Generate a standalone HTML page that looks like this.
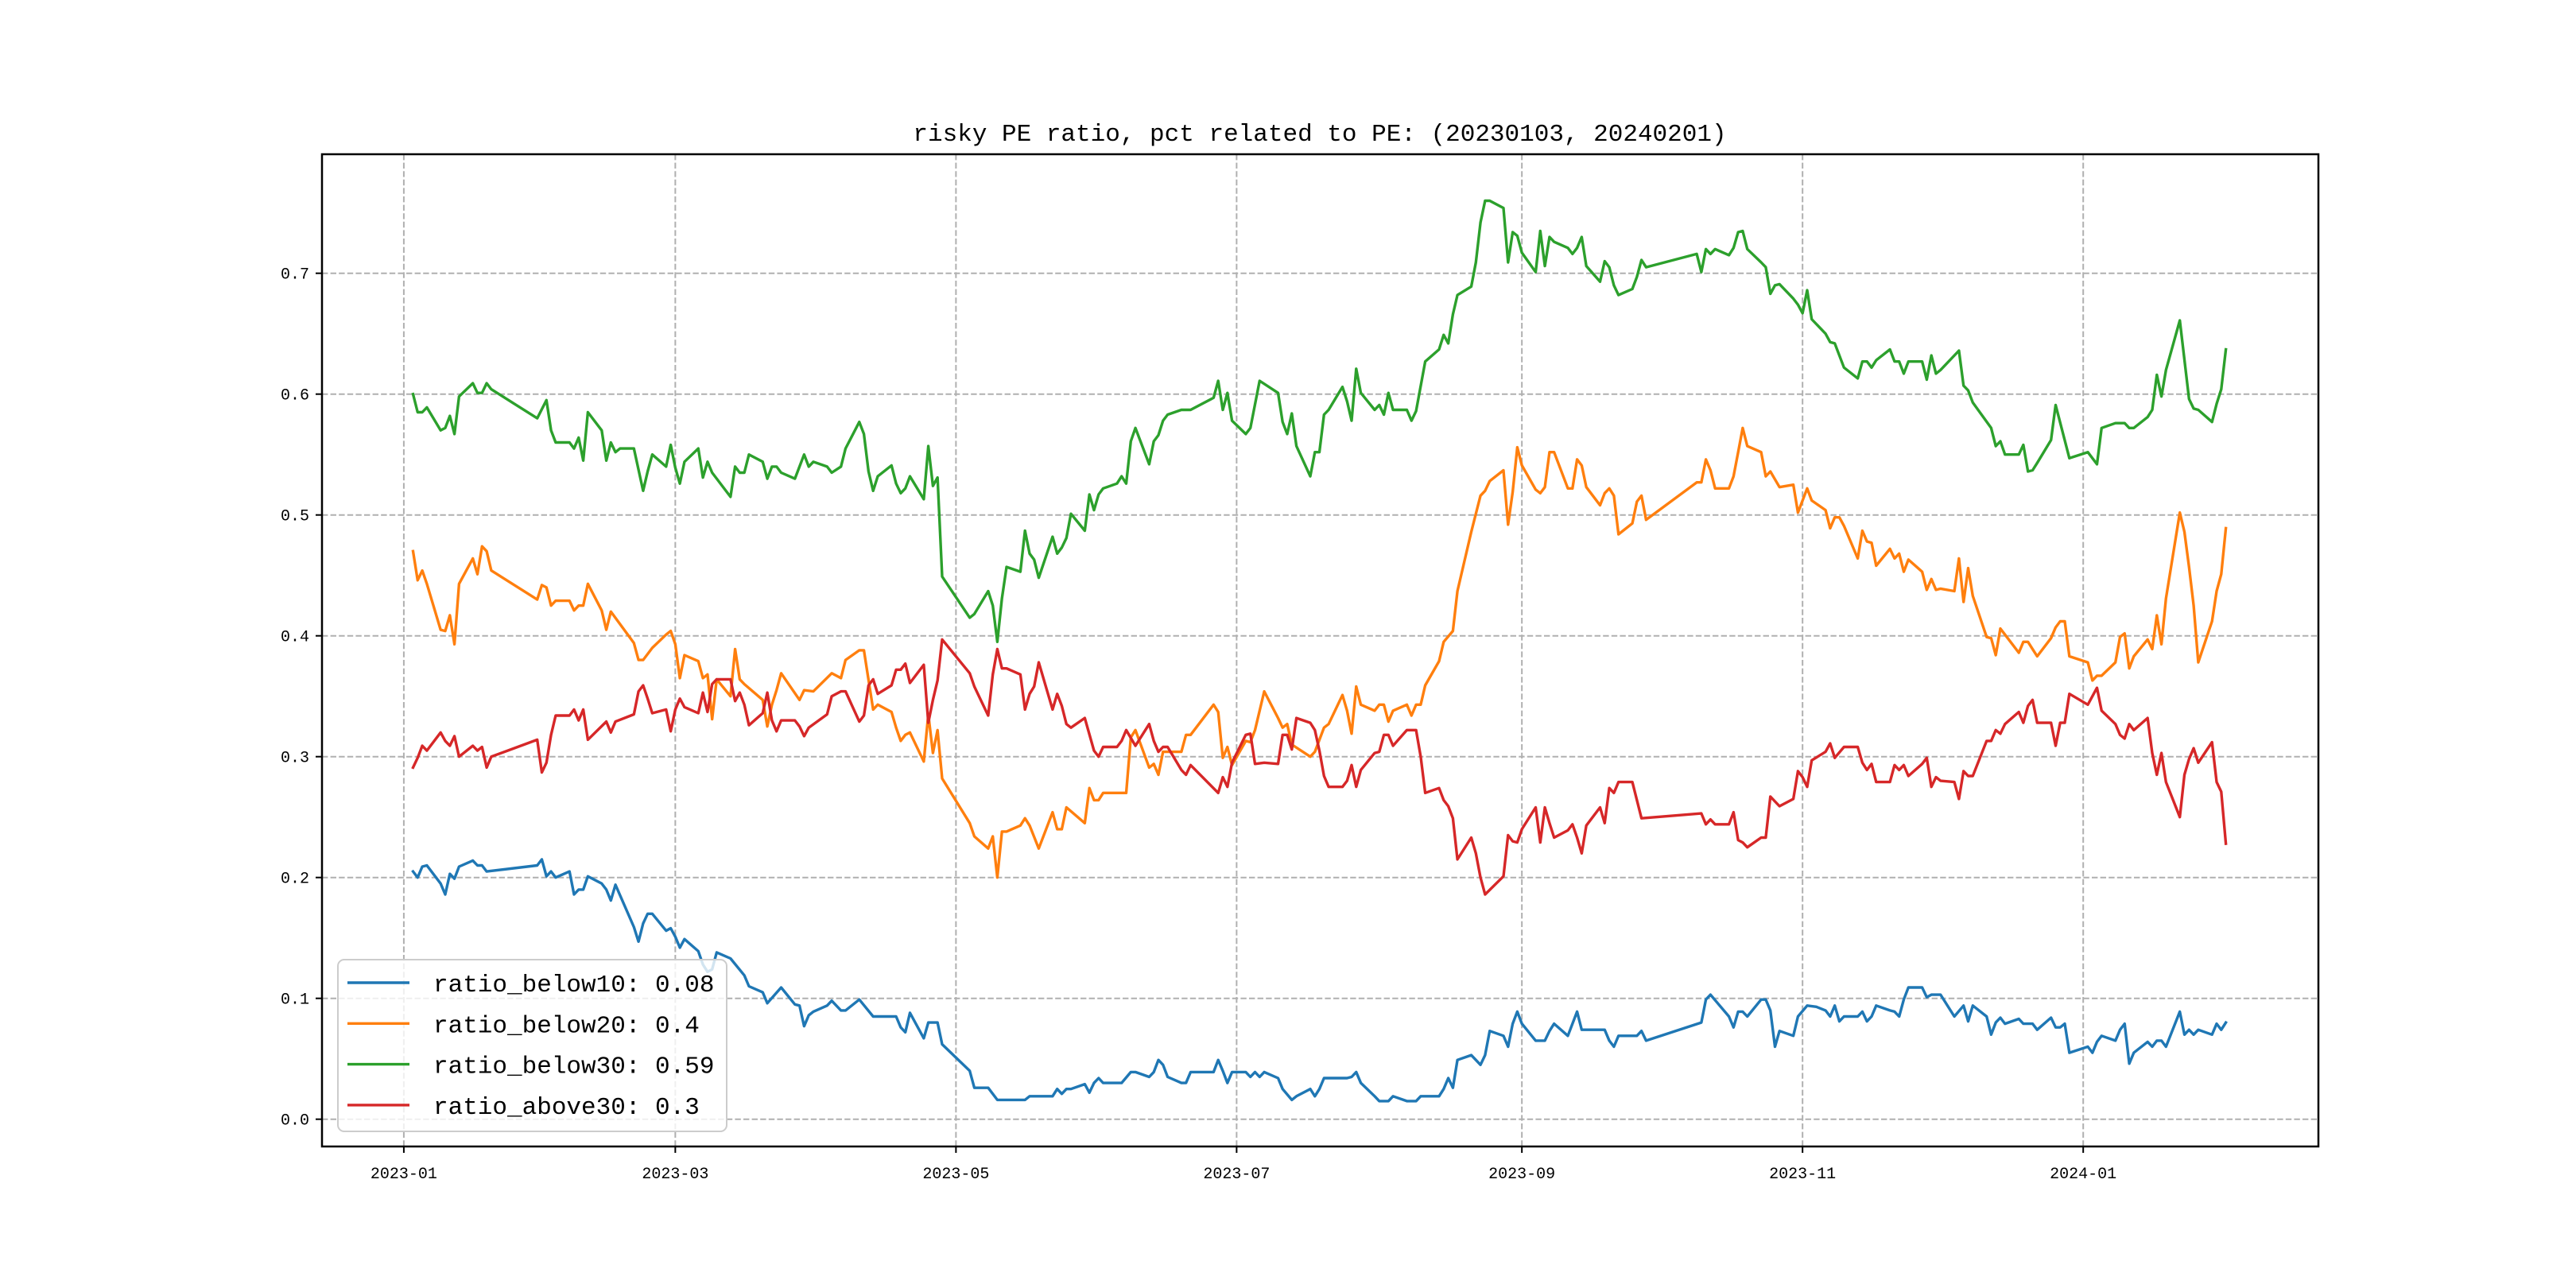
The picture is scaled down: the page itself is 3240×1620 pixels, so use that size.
<!DOCTYPE html>
<html><head><meta charset="utf-8">
<style>
html,body{margin:0;padding:0;background:#fff;}
svg{display:block;}
text{font-family:"Liberation Mono","WenQuanYi Zen Hei",monospace;fill:#000;}
</style></head>
<body>
<svg id="chart" width="3240" height="1620" viewBox="0 0 3240 1620" xmlns="http://www.w3.org/2000/svg">
<rect x="0" y="0" width="3240" height="1620" fill="#fff"/>
<text x="1660" y="177" font-size="31" text-anchor="middle">risky PE ratio, pct related to PE: (20230103, 20240201)</text>
<g id="grid"></g>
<g id="series"></g>
<rect x="405" y="194" width="2511" height="1248" fill="none" stroke="#000" stroke-width="2.5"/>
<g id="axes"></g>
<g id="legend"></g>
</svg>
<script>
const startDate = '2023-01-03';
const xTickLabels = ['2023-01','2023-03','2023-05','2023-07','2023-09','2023-11','2024-01'];
const yTickValues = [0.0,0.1,0.2,0.3,0.4,0.5,0.6,0.7];
const yTickLabels = ['0.0','0.1','0.2','0.3','0.4','0.5','0.6','0.7'];
const seriesNames = ['ratio_below10: 0.08','ratio_below20: 0.4','ratio_below30: 0.59','ratio_above30: 0.3'];
const seriesColors = ['#1f77b4','#ff7f0e','#2ca02c','#d62728'];

const below30Days = [0,1,2,3,6,7,8,9,10,13,14,15,16,17,27,29,30,31,34,35,36,37,38,41,42,43,44,45,48,50,51,52,55,56,57,58,59,62,63,64,65,69,70,71,72,73,76,77,78,79,80,83,84,85,86,87,90,91,93,94,97,98,99,100,101,104,105,106,107,108,111,112,113,114,115,121,122,125,126,127,128,129,132,133,134,135,136,139,140,141,142,143,146,147,148,149,150,153,154,155,156,157,160,161,162,163,164,167,169,174,175,176,177,178,181,182,184,188,189,190,191,192,195,196,197,198,199,202,203,204,205,206,209,210,211,212,213,216,217,218,220,223,224,225,226,227,230,231,232,233,234,237,238,239,240,241,244,245,246,247,248,251,252,253,254,255,258,259,260,261,262,265,266,267,268,279,280,281,282,283,286,287,288,289,290,293,294,295,296,297,300,301,302,303,304,307,308,309,311,314,315,316,317,318,321,322,323,324,325,328,329,330,331,332,336,337,338,339,343,344,345,346,349,350,351,352,353,356,357,360,364,366,367,370,372,373,374,377,378,379,380,381,384,386,387,388,391,392,393,394];
const below30Vals = [0.600,0.585,0.585,0.589,0.570,0.572,0.582,0.567,0.598,0.609,0.601,0.601,0.609,0.604,0.580,0.595,0.570,0.560,0.560,0.555,0.564,0.545,0.585,0.570,0.545,0.560,0.552,0.555,0.555,0.520,0.536,0.550,0.540,0.558,0.539,0.526,0.544,0.555,0.531,0.544,0.535,0.515,0.540,0.535,0.535,0.550,0.544,0.530,0.540,0.540,0.535,0.530,0.540,0.550,0.540,0.544,0.540,0.535,0.540,0.555,0.577,0.567,0.536,0.520,0.532,0.541,0.526,0.518,0.522,0.532,0.513,0.557,0.524,0.531,0.449,0.415,0.418,0.437,0.425,0.395,0.431,0.457,0.453,0.487,0.468,0.463,0.448,0.482,0.468,0.473,0.481,0.501,0.487,0.517,0.504,0.517,0.522,0.526,0.532,0.526,0.561,0.572,0.542,0.561,0.566,0.578,0.583,0.587,0.587,0.597,0.611,0.587,0.601,0.578,0.567,0.572,0.611,0.601,0.577,0.567,0.584,0.557,0.532,0.552,0.552,0.583,0.587,0.606,0.594,0.578,0.621,0.601,0.587,0.591,0.583,0.601,0.587,0.587,0.578,0.586,0.627,0.637,0.649,0.642,0.666,0.682,0.689,0.709,0.742,0.760,0.760,0.754,0.709,0.734,0.731,0.717,0.701,0.735,0.706,0.730,0.726,0.721,0.716,0.721,0.730,0.706,0.693,0.710,0.705,0.690,0.682,0.687,0.697,0.711,0.705,0.716,0.701,0.720,0.716,0.720,0.715,0.721,0.734,0.735,0.720,0.709,0.705,0.683,0.690,0.691,0.679,0.674,0.667,0.686,0.662,0.650,0.643,0.642,0.622,0.613,0.627,0.627,0.622,0.628,0.637,0.627,0.627,0.617,0.627,0.627,0.612,0.632,0.617,0.620,0.636,0.607,0.603,0.593,0.572,0.557,0.561,0.550,0.550,0.558,0.536,0.537,0.543,0.562,0.591,0.547,0.552,0.542,0.572,0.576,0.576,0.572,0.572,0.581,0.587,0.616,0.598,0.620,0.661,0.596,0.588,0.587,0.577,0.592,0.604,0.637];

const below20Days = [0,1,2,3,6,7,8,9,10,13,14,15,16,17,27,28,29,30,31,34,35,36,37,38,41,42,43,48,49,50,52,55,56,57,58,59,62,63,64,65,66,69,70,71,72,76,77,78,79,80,84,85,87,91,93,94,97,98,100,101,104,105,106,107,108,111,112,113,114,115,121,122,125,126,127,128,129,132,133,134,136,139,140,141,142,146,147,148,149,150,155,156,157,160,161,162,163,167,168,169,174,175,176,177,178,181,182,183,185,188,189,190,191,195,196,198,199,202,203,204,205,206,209,210,211,212,213,216,217,218,219,220,223,224,226,227,230,232,233,234,237,238,239,240,241,244,245,246,247,248,251,252,253,254,255,258,259,260,261,262,265,266,267,268,279,280,281,282,283,286,287,288,289,290,293,294,295,297,300,301,303,304,307,308,309,310,311,314,315,316,317,318,321,322,323,324,325,328,329,330,331,332,335,336,337,338,339,342,343,344,345,346,349,350,351,352,353,356,357,358,359,360,364,365,366,367,370,371,372,373,374,377,378,379,380,381,384,385,386,387,388,391,392,393,394];
const below20Vals = [0.470,0.446,0.454,0.443,0.405,0.404,0.417,0.393,0.443,0.464,0.451,0.474,0.470,0.454,0.430,0.442,0.440,0.425,0.429,0.429,0.421,0.425,0.425,0.443,0.421,0.405,0.420,0.394,0.380,0.380,0.390,0.401,0.404,0.393,0.365,0.384,0.379,0.365,0.368,0.331,0.364,0.350,0.389,0.364,0.360,0.347,0.325,0.343,0.355,0.369,0.347,0.355,0.354,0.369,0.365,0.380,0.388,0.388,0.339,0.343,0.337,0.324,0.313,0.318,0.320,0.296,0.335,0.303,0.322,0.282,0.245,0.234,0.224,0.234,0.200,0.238,0.238,0.243,0.249,0.243,0.224,0.254,0.240,0.240,0.258,0.245,0.274,0.264,0.264,0.270,0.270,0.316,0.322,0.291,0.294,0.285,0.304,0.304,0.318,0.318,0.343,0.337,0.299,0.308,0.293,0.313,0.312,0.322,0.354,0.332,0.324,0.327,0.310,0.300,0.304,0.324,0.327,0.351,0.338,0.319,0.358,0.343,0.338,0.343,0.343,0.329,0.338,0.343,0.334,0.343,0.343,0.359,0.379,0.395,0.404,0.437,0.486,0.516,0.520,0.528,0.537,0.492,0.519,0.556,0.541,0.521,0.518,0.523,0.552,0.552,0.522,0.522,0.546,0.541,0.523,0.508,0.518,0.522,0.516,0.484,0.493,0.511,0.516,0.496,0.527,0.527,0.546,0.537,0.522,0.522,0.532,0.552,0.572,0.557,0.552,0.532,0.536,0.523,0.525,0.502,0.522,0.512,0.504,0.489,0.498,0.498,0.491,0.464,0.487,0.478,0.477,0.458,0.472,0.464,0.468,0.453,0.463,0.453,0.438,0.447,0.438,0.439,0.437,0.464,0.428,0.456,0.433,0.399,0.398,0.384,0.406,0.401,0.386,0.395,0.395,0.389,0.383,0.398,0.407,0.412,0.412,0.383,0.378,0.363,0.367,0.367,0.378,0.399,0.402,0.373,0.383,0.397,0.389,0.417,0.393,0.431,0.502,0.486,0.457,0.425,0.378,0.412,0.437,0.451,0.489];

const above30Days = [0,1,2,3,6,7,8,9,10,13,14,15,16,17,27,28,29,30,31,34,35,36,37,38,42,43,44,48,49,50,51,52,55,56,57,58,59,62,63,64,65,66,69,70,71,72,73,76,77,78,79,80,83,84,85,86,90,91,93,94,97,98,99,100,101,104,105,106,107,108,111,112,113,114,115,121,122,125,126,127,128,129,132,133,134,135,136,139,140,141,142,143,146,148,149,150,153,154,155,157,160,161,162,163,164,167,168,169,175,176,177,178,181,182,183,185,188,189,190,191,192,195,196,197,198,199,202,203,204,205,206,209,210,211,212,213,216,218,219,220,223,224,225,226,227,230,231,232,233,237,238,239,240,241,244,245,246,247,248,251,252,253,254,255,258,259,260,261,262,265,267,280,281,282,283,286,287,288,289,290,293,294,295,297,300,301,302,303,304,307,308,309,311,314,315,316,317,318,321,322,323,324,325,328,329,330,331,332,335,336,337,338,339,342,343,344,345,346,349,350,351,352,353,356,357,358,359,360,364,366,367,370,371,372,373,374,377,378,379,380,381,384,385,386,387,388,391,392,393,394];
const above30Vals = [0.291,0.299,0.309,0.305,0.320,0.313,0.309,0.317,0.300,0.309,0.305,0.308,0.291,0.300,0.314,0.287,0.295,0.318,0.334,0.334,0.339,0.330,0.339,0.314,0.329,0.320,0.329,0.335,0.354,0.359,0.348,0.336,0.339,0.321,0.339,0.348,0.341,0.336,0.353,0.337,0.360,0.364,0.364,0.346,0.353,0.343,0.326,0.336,0.353,0.330,0.321,0.330,0.330,0.325,0.317,0.324,0.335,0.350,0.354,0.354,0.329,0.334,0.359,0.364,0.352,0.359,0.372,0.372,0.377,0.361,0.376,0.328,0.347,0.363,0.397,0.369,0.358,0.334,0.368,0.389,0.373,0.373,0.368,0.339,0.352,0.358,0.378,0.339,0.352,0.342,0.327,0.324,0.332,0.305,0.300,0.308,0.308,0.313,0.322,0.309,0.327,0.313,0.304,0.308,0.308,0.289,0.285,0.293,0.270,0.283,0.275,0.295,0.318,0.319,0.294,0.295,0.294,0.318,0.318,0.306,0.332,0.328,0.322,0.305,0.284,0.275,0.275,0.280,0.293,0.275,0.289,0.303,0.304,0.318,0.318,0.309,0.322,0.322,0.300,0.270,0.274,0.264,0.259,0.249,0.215,0.233,0.220,0.200,0.186,0.201,0.235,0.230,0.229,0.240,0.258,0.229,0.258,0.245,0.233,0.239,0.244,0.233,0.220,0.243,0.258,0.245,0.274,0.270,0.279,0.279,0.249,0.253,0.244,0.248,0.244,0.244,0.254,0.231,0.229,0.225,0.233,0.233,0.267,0.259,0.265,0.288,0.283,0.275,0.297,0.304,0.311,0.299,0.308,0.308,0.295,0.289,0.294,0.279,0.279,0.293,0.289,0.293,0.284,0.294,0.299,0.275,0.283,0.280,0.279,0.265,0.288,0.284,0.284,0.313,0.313,0.322,0.319,0.327,0.337,0.328,0.342,0.347,0.328,0.328,0.309,0.328,0.328,0.352,0.343,0.357,0.338,0.327,0.318,0.315,0.327,0.322,0.332,0.303,0.285,0.303,0.279,0.250,0.285,0.298,0.307,0.295,0.312,0.279,0.271,0.228];

const below10Days = [0,1,2,3,6,7,8,9,10,13,14,15,16,27,28,29,30,31,34,35,36,37,38,41,42,43,44,48,49,50,51,52,55,56,57,58,59,62,63,64,65,66,69,72,73,76,77,80,83,84,85,86,87,90,91,93,94,97,100,101,105,106,107,108,111,112,114,115,121,122,125,127,133,134,139,140,141,142,143,146,147,148,149,150,154,156,157,160,161,162,163,164,167,168,169,174,175,176,177,178,181,182,183,184,185,188,189,191,192,195,196,197,198,203,204,205,206,209,210,212,213,216,218,219,223,224,225,226,227,230,232,233,234,237,238,239,240,241,244,246,247,248,251,253,254,259,260,261,262,266,267,268,280,281,282,286,287,288,289,290,293,294,295,296,297,300,301,303,305,307,308,309,310,311,314,315,316,317,318,321,322,323,324,325,328,329,330,332,335,337,338,339,342,343,344,345,346,349,350,352,353,356,357,358,359,360,364,365,366,367,370,371,372,373,374,377,378,379,380,381,384,385,386,387,388,391,392,393,394];
const below10Vals = [0.205,0.200,0.209,0.210,0.195,0.186,0.203,0.199,0.209,0.214,0.210,0.210,0.205,0.210,0.215,0.201,0.205,0.200,0.205,0.186,0.190,0.190,0.201,0.195,0.190,0.181,0.194,0.159,0.147,0.162,0.170,0.170,0.156,0.158,0.151,0.142,0.149,0.139,0.128,0.122,0.124,0.138,0.133,0.119,0.110,0.105,0.096,0.109,0.095,0.094,0.077,0.086,0.089,0.094,0.098,0.090,0.090,0.099,0.085,0.085,0.085,0.076,0.072,0.088,0.067,0.080,0.080,0.062,0.040,0.026,0.026,0.016,0.016,0.019,0.019,0.025,0.021,0.025,0.025,0.029,0.022,0.030,0.034,0.030,0.030,0.039,0.039,0.035,0.039,0.049,0.045,0.035,0.030,0.030,0.039,0.039,0.049,0.040,0.030,0.039,0.039,0.035,0.039,0.035,0.039,0.034,0.025,0.016,0.019,0.025,0.019,0.025,0.034,0.034,0.035,0.039,0.030,0.019,0.015,0.015,0.019,0.015,0.015,0.019,0.019,0.025,0.034,0.026,0.049,0.053,0.045,0.053,0.073,0.069,0.060,0.079,0.089,0.079,0.065,0.065,0.073,0.079,0.069,0.089,0.074,0.074,0.065,0.060,0.069,0.069,0.073,0.065,0.080,0.099,0.103,0.085,0.076,0.089,0.089,0.085,0.099,0.099,0.090,0.060,0.073,0.069,0.085,0.094,0.093,0.090,0.085,0.094,0.081,0.085,0.085,0.089,0.081,0.085,0.094,0.090,0.089,0.085,0.099,0.109,0.109,0.101,0.103,0.103,0.085,0.094,0.081,0.094,0.085,0.070,0.080,0.084,0.079,0.083,0.079,0.079,0.074,0.084,0.076,0.076,0.079,0.055,0.060,0.055,0.064,0.069,0.065,0.074,0.079,0.046,0.055,0.064,0.060,0.065,0.065,0.060,0.089,0.070,0.074,0.070,0.074,0.070,0.079,0.074,0.080];

const NS = 'http://www.w3.org/2000/svg';
const X0 = 519.5, PX_PER_DAY = 5.787, Y0 = 1407.7, PX_PER_UNIT = 1520;
const PLOT_L = 405, PLOT_R = 2916, PLOT_T = 194, PLOT_B = 1442;
function xScale(d){ return X0 + d * PX_PER_DAY; }
function yScale(v){ return Y0 - v * PX_PER_UNIT; }
function dayOf(label){
  const p = label.split('-').map(Number);
  const s = startDate.split('-').map(Number);
  return (Date.UTC(p[0], p[1]-1, p[2]||1) - Date.UTC(s[0], s[1]-1, s[2])) / 86400000;
}
function mk(tag, attrs, parent){
  const el = document.createElementNS(NS, tag);
  for (const k in attrs) el.setAttribute(k, attrs[k]);
  parent.appendChild(el);
  return el;
}
const grid = document.getElementById('grid');
const axes = document.getElementById('axes');
const seriesG = document.getElementById('series');
const legend = document.getElementById('legend');

xTickLabels.forEach(function(lab){
  const x = xScale(dayOf(lab));
  const gl = mk('line', {x1:x, x2:x, y1:PLOT_T, y2:PLOT_B, stroke:'#b0b0b0', 'stroke-width':2, 'stroke-dasharray':'7.4 3.2'}, grid);
  
  
  const tk = mk('line', {x1:x, x2:x, y1:PLOT_B, y2:PLOT_B+8, stroke:'#000', 'stroke-width':2}, axes);
  
  
  const t = mk('text', {x:x, y:PLOT_B+40, 'font-size':20, 'text-anchor':'middle'}, axes);
  t.textContent = lab;
  
  
});
yTickValues.forEach(function(v, i){
  const y = yScale(v);
  const gl = mk('line', {x1:PLOT_L, x2:PLOT_R, y1:y, y2:y, stroke:'#b0b0b0', 'stroke-width':2, 'stroke-dasharray':'7.4 3.2'}, grid);
  
  
  const tk = mk('line', {x1:PLOT_L-8, x2:PLOT_L, y1:y, y2:y, stroke:'#000', 'stroke-width':2}, axes);
  
  
  const t = mk('text', {x:PLOT_L-16, y:y+7, 'font-size':20, 'text-anchor':'end'}, axes);
  t.textContent = yTickLabels[i];
  
  
});

const allDays = [below10Days, below20Days, below30Days, above30Days];
const allVals = [below10Vals, below20Vals, below30Vals, above30Vals];
const lineNames = ['line-ratio-below10','line-ratio-below20','line-ratio-below30','line-ratio-above30'];
allDays.forEach(function(days, s){
  const vals = allVals[s];
  let d = '';
  for (let i = 0; i < days.length && i < vals.length; i++){
    d += (i ? 'L' : 'M') + xScale(days[i]).toFixed(1) + ',' + yScale(vals[i]).toFixed(1);
  }
  const p = mk('path', {d:d, fill:'none', stroke:seriesColors[s], 'stroke-width':3.4, 'stroke-linejoin':'round', 'stroke-linecap':'square'}, seriesG);
  
  
});

const box = mk('rect', {x:425, y:1207, width:489, height:216, rx:8, ry:8, fill:'#fff', 'fill-opacity':0.8, stroke:'#cccccc', 'stroke-width':2}, legend);


seriesNames.forEach(function(name, i){
  const y = 1236 + i * 51.3;
  const ln = mk('line', {x1:437, x2:515, y1:y, y2:y, stroke:seriesColors[i], 'stroke-width':3.4}, legend);
  
  
  const t = mk('text', {x:545, y:y+11, 'font-size':31}, legend);
  t.textContent = name;
  
  
});
</script>
</body></html>
